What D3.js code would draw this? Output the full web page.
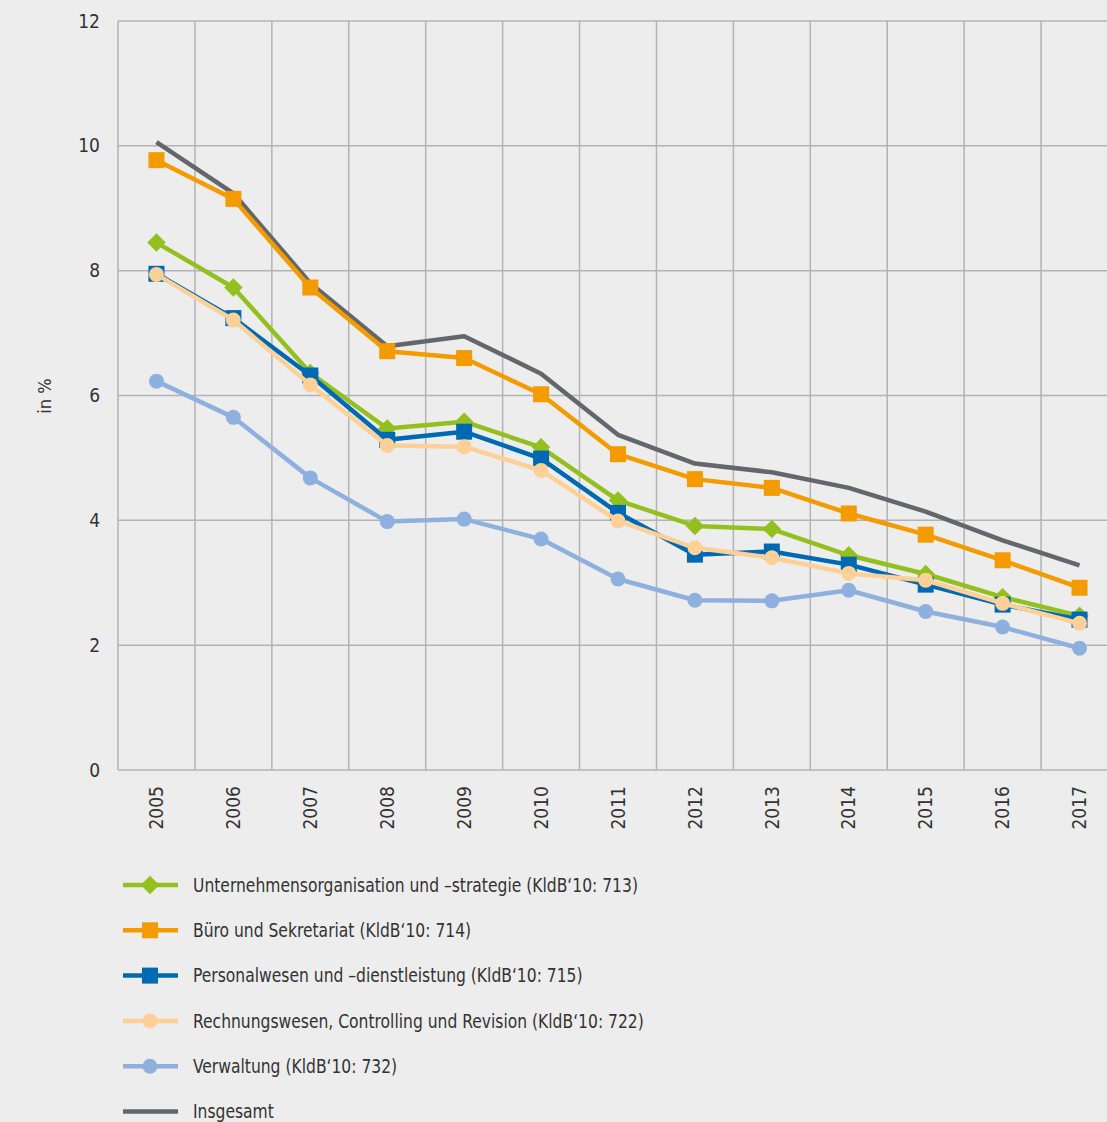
<!DOCTYPE html>
<html>
<head>
<meta charset="utf-8">
<script src="https://cdn.jsdelivr.net/npm/d3@7"></script>
<style>
  body { margin: 0; background: #ededed; }
  svg { display: block; font-family: "DejaVu Sans Condensed", "Liberation Sans Narrow", sans-serif; }
</style>
</head>
<body>
<svg class="chart"></svg>
<script>
var years = ["2005","2006","2007","2008","2009","2010","2011","2012","2013","2014","2015","2016","2017"];
var yTicks = [0, 2, 4, 6, 8, 10, 12];

var unternehmen = [8.45, 7.73, 6.36, 5.47, 5.58, 5.17, 4.32, 3.91, 3.86, 3.44, 3.14, 2.77, 2.47];
var buero       = [9.77, 9.15, 7.73, 6.71, 6.60, 6.02, 5.06, 4.66, 4.52, 4.11, 3.77, 3.36, 2.92];
var personal    = [7.95, 7.24, 6.32, 5.29, 5.42, 4.99, 4.12, 3.45, 3.50, 3.29, 2.97, 2.65, 2.41];
var rechnung    = [7.94, 7.21, 6.17, 5.20, 5.18, 4.80, 3.99, 3.56, 3.40, 3.15, 3.04, 2.67, 2.35];
var verwaltung  = [6.23, 5.65, 4.68, 3.98, 4.02, 3.70, 3.06, 2.72, 2.71, 2.88, 2.54, 2.29, 1.95];
var insgesamt   = [10.06, 9.24, 7.80, 6.79, 6.95, 6.35, 5.37, 4.91, 4.77, 4.52, 4.14, 3.68, 3.28];

var seriesNames = [
  "Unternehmensorganisation und \u2013strategie (KldB\u201810: 713)",
  "B\u00fcro und Sekretariat (KldB\u201810: 714)",
  "Personalwesen und \u2013dienstleistung (KldB\u201810: 715)",
  "Rechnungswesen, Controlling und Revision (KldB\u201810: 722)",
  "Verwaltung (KldB\u201810: 732)",
  "Insgesamt"
];

var series = [
  {name: seriesNames[0], values: unternehmen, color: "#93c01f", marker: "diamond"},
  {name: seriesNames[1], values: buero, color: "#f39b00", marker: "square"},
  {name: seriesNames[2], values: personal, color: "#0069b4", marker: "square"},
  {name: seriesNames[3], values: rechnung, color: "#fcd096", marker: "circle"},
  {name: seriesNames[4], values: verwaltung, color: "#8eb0de", marker: "circle"},
  {name: seriesNames[5], values: insgesamt, color: "#63666a", marker: null}
];

// drawing order: total underneath, then the rest as in the legend
var drawOrder = [5, 0, 1, 2, 3, 4];

var svg = d3.select('.chart')
            .attr('width', 1107)
            .attr('height', 1122);

var xScale = d3.scaleBand()
               .domain(years)
               .range([118, 1118]);

var yScale = d3.scaleLinear()
               .domain([0, 12])
               .range([770, 21]);

// grid
svg.append('g')
   .selectAll('line')
   .data(yTicks)
   .enter()
   .append('line')
   .attr('x1', 118).attr('x2', 1118)
   .attr('y1', d => yScale(d)).attr('y2', d => yScale(d))
   .attr('stroke', '#b3b3b3')
   .attr('stroke-width', 1.5);

svg.append('g')
   .selectAll('line')
   .data(years.concat(['end']))
   .enter()
   .append('line')
   .attr('x1', (d, i) => 118 + i * xScale.step())
   .attr('x2', (d, i) => 118 + i * xScale.step())
   .attr('y1', yScale(12)).attr('y2', yScale(0))
   .attr('stroke', '#b3b3b3')
   .attr('stroke-width', 1.5);

// y axis labels
var yAxis = d3.axisLeft(yScale).tickValues(yTicks).tickSize(0).tickPadding(18);
svg.append('g')
   .attr('transform', 'translate(118,0)')
   .call(yAxis)
   .call(g => g.select('.domain').remove())
   .selectAll('text')
   .attr('font-size', 19)
   .attr('font-family', '"DejaVu Sans Condensed", sans-serif')
   .attr('fill', '#333');

svg.append('text')
   .attr('transform', 'translate(51,396) rotate(-90)')
   .attr('text-anchor', 'middle')
   .attr('font-size', 18)
   .attr('fill', '#333')
   .text('in %');

// x axis labels
var xAxis = d3.axisBottom(xScale).tickSize(0).tickPadding(0);
svg.append('g')
   .attr('transform', 'translate(0,770)')
   .call(xAxis)
   .call(g => g.select('.domain').remove())
   .selectAll('text')
   .attr('font-size', 19)
   .attr('font-family', '"DejaVu Sans Condensed", sans-serif')
   .attr('fill', '#333')
   .attr('text-anchor', 'end')
   .attr('dy', '0.35em')
   .attr('transform', 'translate(0,16) rotate(-90)');

var xc = d => xScale(d) + xScale.bandwidth() / 2;

var line = d3.line()
             .x((d, i) => xc(years[i]))
             .y(d => yScale(d));

var diamond = d3.symbol().type(d3.symbolSquare).size(170);

function drawMarker(g, type, color, cx, cy) {
  if (type === 'diamond') {
    g.append('path')
     .attr('d', diamond())
     .attr('transform', 'translate(' + cx + ',' + cy + ') rotate(45)')
     .attr('fill', color);
  } else if (type === 'square') {
    g.append('rect')
     .attr('x', cx - 8).attr('y', cy - 8)
     .attr('width', 16).attr('height', 16)
     .attr('fill', color);
  } else if (type === 'circle') {
    g.append('circle')
     .attr('cx', cx).attr('cy', cy).attr('r', 7.5)
     .attr('fill', color);
  }
}

drawOrder.forEach(k => {
  var s = series[k];
  var g = svg.append('g');
  g.append('path')
   .attr('d', line(s.values))
   .attr('fill', 'none')
   .attr('stroke', s.color)
   .attr('stroke-width', 4.5)
   .attr('stroke-linejoin', 'round');
  if (s.marker) {
    s.values.forEach((v, i) => drawMarker(g, s.marker, s.color, xc(years[i]), yScale(v)));
  }
});

// legend
var legend = svg.append('g');
series.forEach((s, i) => {
  var y = 885 + i * 45.3;
  legend.append('line')
        .attr('x1', 123).attr('x2', 178)
        .attr('y1', y).attr('y2', y)
        .attr('stroke', s.color)
        .attr('stroke-width', 4.5);
  drawMarker(legend, s.marker, s.color, 150, y);
  // the source font is narrower, so squeeze the text a little
  legend.append('text')
        .attr('transform', 'translate(193,' + y + ') scale(0.91,1)')
        .attr('dy', '0.35em')
        .attr('font-size', 19)
        .attr('fill', '#333')
        .text(s.name);
});
</script>
</body>
</html>
